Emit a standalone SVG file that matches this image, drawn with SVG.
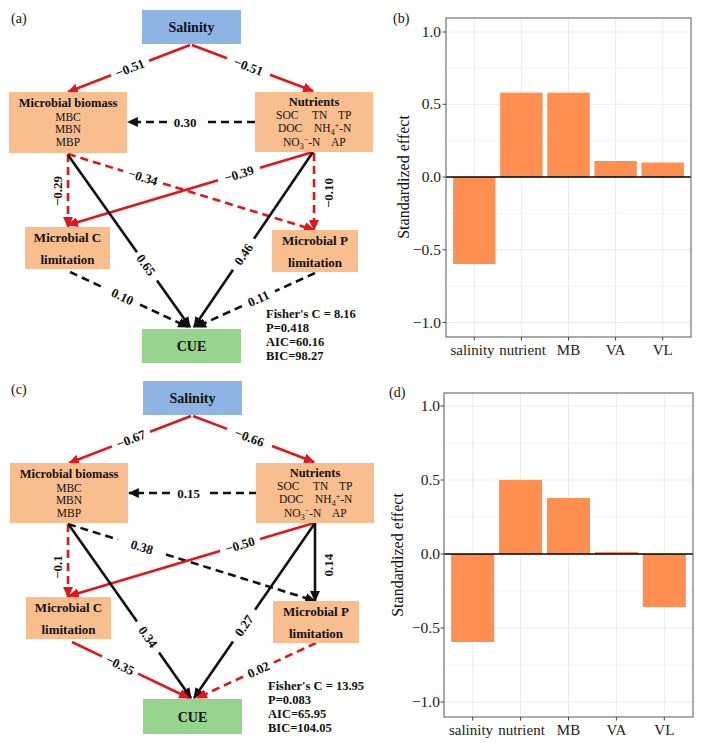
<svg xmlns="http://www.w3.org/2000/svg" width="701" height="743" viewBox="0 0 701 743">
<style>
.bg{fill:#fff}
.sal{fill:#8DB4E2}
.org{fill:#F9BE8E}
.grn{fill:#96D38C}
.t{font-family:"Liberation Serif","Times New Roman",serif;fill:#111}
.tb{font-family:"Liberation Serif","Times New Roman",serif;font-weight:bold;fill:#111}
.h14{font-size:14px}
.h125{font-size:12.5px}
.h13{font-size:13px}
.n{font-size:11.5px}
.lab{font-family:"Liberation Serif","Times New Roman",serif;font-weight:bold;font-size:13px;fill:#111;text-anchor:middle}
.mid{text-anchor:middle}
.r{stroke:#E3151A;stroke-width:2.6;fill:none}
.k{stroke:#111;stroke-width:2.6;fill:none}
.d{stroke-dasharray:8 5}
.grid{stroke:#EBEBEB;stroke-width:1}
.gridm{stroke:#EBEBEB;stroke-width:0.6}
.bar{fill:#FF8F50}
.frame{fill:none;stroke:#666;stroke-width:1.1}
.tick{stroke:#444;stroke-width:1}
.ax{font-family:"Liberation Serif","Times New Roman",serif;font-size:15.5px;fill:#222}
.axx{font-family:"Liberation Serif","Times New Roman",serif;font-size:15px;fill:#222;text-anchor:middle}
.yt{font-family:"Liberation Serif","Times New Roman",serif;font-size:16px;fill:#111;text-anchor:middle}
</style>
<defs>
<marker id="mr" viewBox="0 0 10 9" refX="9" refY="4.5" markerWidth="11" markerHeight="10" markerUnits="userSpaceOnUse" orient="auto"><path d="M0,0 L10,4.5 L0,9 z" fill="#E3151A"/></marker>
<marker id="mk" viewBox="0 0 10 9" refX="9" refY="4.5" markerWidth="11" markerHeight="10" markerUnits="userSpaceOnUse" orient="auto"><path d="M0,0 L10,4.5 L0,9 z" fill="#111"/></marker>
</defs>
<rect class="bg" x="0" y="0" width="701" height="743"/>

<!-- ================= Panel (a) ================= -->
<text class="t h14" x="11" y="23">(a)</text>
<g id="a-connectors">
  <path class="r" d="M190,45 L149,60.7"/>
  <path class="r" d="M111,75.3 L68,92" marker-end="url(#mr)"/>
  <path class="r" d="M192,45 L227,58.3"/>
  <path class="r" d="M270,74.7 L313,91" marker-end="url(#mr)"/>
  <path class="k d" d="M255,122 L203,122"/>
  <path class="k d" d="M167,122 L128,122" marker-end="url(#mk)"/>
  <path class="r d" d="M68,154 L68,227" marker-end="url(#mr)"/>
  <path class="r d" d="M314,153 L314,230" marker-end="url(#mr)"/>
  <path class="r d" d="M68,154 L123,171"/>
  <path class="r d" d="M163,183.4 L314,230" marker-end="url(#mr)"/>
  <path class="r" d="M313,152 L260,167.8"/>
  <path class="r" d="M218,180.3 L68,225" marker-end="url(#mr)"/>
  <path class="k" d="M68,155 L137,252.3"/>
  <path class="k" d="M157,280.5 L190,327" marker-end="url(#mk)"/>
  <path class="k" d="M313,152 L254,238.8"/>
  <path class="k" d="M233,269.7 L194,327" marker-end="url(#mk)"/>
  <path class="k d" d="M70,272 L105,288.3"/>
  <path class="k d" d="M140,304.6 L188,327" marker-end="url(#mk)"/>
  <path class="k d" d="M315,273 L275,291.2"/>
  <path class="k d" d="M242,306.1 L196,327" marker-end="url(#mk)"/>
  <text class="lab" transform="translate(130,68.1) rotate(-21.1)" dy="4.5">−0.51</text>
  <text class="lab" transform="translate(248.5,66.5) rotate(20.8)" dy="4.5">−0.51</text>
  <text class="lab" x="185" y="122" dy="4.5">0.30</text>
  <text class="lab" transform="translate(57,191) rotate(-90)" dy="4.5">−0.29</text>
  <text class="lab" transform="translate(328,193) rotate(-90)" dy="4.5">−0.10</text>
  <text class="lab" transform="translate(143,177.2) rotate(17.2)" dy="4.5">−0.34</text>
  <text class="lab" transform="translate(239,174) rotate(-16.6)" dy="4.5">−0.39</text>
  <text class="lab" transform="translate(146,265) rotate(54.6)" dy="4.5">0.65</text>
  <text class="lab" transform="translate(243.5,254.2) rotate(-55.8)" dy="4.5">0.46</text>
  <text class="lab" transform="translate(122.5,296.5) rotate(25)" dy="4.5">0.10</text>
  <text class="lab" transform="translate(258.5,298.6) rotate(-24.4)" dy="4.5">0.11</text>
</g>
<g id="a-salinity">
  <rect class="sal" x="142" y="10" width="99" height="34"/>
  <text class="tb h14 mid" x="191.5" y="32">Salinity</text>
</g>
<g id="a-biomass">
  <rect class="org" x="9" y="92" width="118" height="61"/>
  <text class="tb h125 mid" x="68" y="107">Microbial biomass</text>
  <text class="t n mid" x="68" y="120.5">MBC</text>
  <text class="t n mid" x="68" y="133">MBN</text>
  <text class="t n mid" x="68" y="146">MBP</text>
</g>
<g id="a-nutrients">
  <rect class="org" x="255" y="92" width="118" height="60"/>
  <text class="tb h125 mid" x="314" y="106">Nutrients</text>
  <text class="t n" x="276" y="118.5">SOC</text>
  <text class="t n" x="312" y="118.5">TN</text>
  <text class="t n" x="338" y="118.5">TP</text>
  <text class="t n" x="278" y="132">DOC</text>
  <text class="t n" x="314" y="132">NH<tspan font-size="8" dy="3">4</tspan><tspan font-size="8" dy="-7">+</tspan><tspan dy="4">-N</tspan></text>
  <text class="t n" x="283" y="145.5">NO<tspan font-size="8" dy="3">3</tspan><tspan font-size="8" dy="-7">−</tspan><tspan dy="4">-N</tspan></text>
  <text class="t n" x="331" y="145.5">AP</text>
</g>
<g id="a-climitation">
  <rect class="org" x="25" y="227" width="85" height="42"/>
  <text class="tb h13 mid" x="67.5" y="241.5">Microbial C</text>
  <text class="tb h13 mid" x="67.5" y="263.5">limitation</text>
</g>
<g id="a-plimitation">
  <rect class="org" x="272" y="230" width="86" height="42"/>
  <text class="tb h13 mid" x="315" y="244.5">Microbial P</text>
  <text class="tb h13 mid" x="315" y="266.5">limitation</text>
</g>
<g id="a-cue">
  <rect class="grn" x="142" y="329" width="99" height="34"/>
  <text class="tb h14 mid" x="191.5" y="351">CUE</text>
</g>
<g id="a-stats">
  <text class="tb h125" x="266" y="317.5">Fisher's C = 8.16</text>
  <text class="tb h125" x="266" y="331.5">P=0.418</text>
  <text class="tb h125" x="266" y="346">AIC=60.16</text>
  <text class="tb h125" x="266" y="360">BIC=98.27</text>
</g>

<!-- ================= Panel (c) ================= -->
<text class="t h14" x="11" y="394">(c)</text>
<g id="c-connectors">
  <path class="r" d="M191,416 L150,431.8"/>
  <path class="r" d="M112,446.4 L69,463" marker-end="url(#mr)"/>
  <path class="r" d="M193,416 L227,428.9"/>
  <path class="r" d="M272,446 L314,462" marker-end="url(#mr)"/>
  <path class="k d" d="M257,493 L207,493"/>
  <path class="k d" d="M170,493 L129,493" marker-end="url(#mk)"/>
  <path class="r d" d="M68,524 L68,597" marker-end="url(#mr)"/>
  <path class="k d" d="M68,524 L118,539.6"/>
  <path class="k d" d="M166,554.5 L315,601" marker-end="url(#mk)"/>
  <path class="r" d="M314,523 L260,539.1"/>
  <path class="r" d="M220,551 L69,596" marker-end="url(#mr)"/>
  <path class="k" d="M315,523 L315,601" marker-end="url(#mk)"/>
  <path class="k" d="M69,525 L137,621.4"/>
  <path class="k" d="M159,652.6 L191,698" marker-end="url(#mk)"/>
  <path class="k" d="M315,523 L255,609.8"/>
  <path class="k" d="M233,641.6 L194,698" marker-end="url(#mk)"/>
  <path class="r" d="M72,642 L102,656.4"/>
  <path class="r" d="M138,673.6 L189,698" marker-end="url(#mr)"/>
  <path class="r d" d="M316,643 L274,662.4"/>
  <path class="r d" d="M243,676.7 L197,698" marker-end="url(#mr)"/>
  <text class="lab" transform="translate(131,439.1) rotate(-21.1)" dy="4.5">−0.67</text>
  <text class="lab" transform="translate(249.5,437.5) rotate(20.8)" dy="4.5">−0.66</text>
  <text class="lab" x="188.5" y="493" dy="4.5">0.15</text>
  <text class="lab" transform="translate(57,567) rotate(-90)" dy="4.5">−0.1</text>
  <text class="lab" transform="translate(142,547) rotate(17.3)" dy="4.5">0.38</text>
  <text class="lab" transform="translate(240,545) rotate(-16.6)" dy="4.5">−0.50</text>
  <text class="lab" transform="translate(328,565) rotate(-90)" dy="4.5">0.14</text>
  <text class="lab" transform="translate(148,637) rotate(54.8)" dy="4.5">0.34</text>
  <text class="lab" transform="translate(244,625.7) rotate(-55.3)" dy="4.5">0.27</text>
  <text class="lab" transform="translate(120,665) rotate(25.6)" dy="4.5">−0.35</text>
  <text class="lab" transform="translate(258.5,669.6) rotate(-24.8)" dy="4.5">0.02</text>
</g>
<g id="c-salinity">
  <rect class="sal" x="143" y="381" width="99" height="34"/>
  <text class="tb h14 mid" x="192.5" y="403">Salinity</text>
</g>
<g id="c-biomass">
  <rect class="org" x="10" y="463" width="118" height="60"/>
  <text class="tb h125 mid" x="69" y="478">Microbial biomass</text>
  <text class="t n mid" x="69" y="491.5">MBC</text>
  <text class="t n mid" x="69" y="504">MBN</text>
  <text class="t n mid" x="69" y="517">MBP</text>
</g>
<g id="c-nutrients">
  <rect class="org" x="256" y="463" width="118" height="60"/>
  <text class="tb h125 mid" x="315" y="477">Nutrients</text>
  <text class="t n" x="277" y="489.5">SOC</text>
  <text class="t n" x="313" y="489.5">TN</text>
  <text class="t n" x="339" y="489.5">TP</text>
  <text class="t n" x="279" y="503">DOC</text>
  <text class="t n" x="315" y="503">NH<tspan font-size="8" dy="3">4</tspan><tspan font-size="8" dy="-7">+</tspan><tspan dy="4">-N</tspan></text>
  <text class="t n" x="284" y="516.5">NO<tspan font-size="8" dy="3">3</tspan><tspan font-size="8" dy="-7">−</tspan><tspan dy="4">-N</tspan></text>
  <text class="t n" x="332" y="516.5">AP</text>
</g>
<g id="c-climitation">
  <rect class="org" x="26" y="597" width="85" height="42"/>
  <text class="tb h13 mid" x="68.5" y="611.5">Microbial C</text>
  <text class="tb h13 mid" x="68.5" y="633.5">limitation</text>
</g>
<g id="c-plimitation">
  <rect class="org" x="273" y="601" width="86" height="42"/>
  <text class="tb h13 mid" x="316" y="615.5">Microbial P</text>
  <text class="tb h13 mid" x="316" y="637.5">limitation</text>
</g>
<g id="c-cue">
  <rect class="grn" x="143" y="699" width="99" height="35"/>
  <text class="tb h14 mid" x="192.5" y="721.5">CUE</text>
</g>
<g id="c-stats">
  <text class="tb h125" x="268" y="689.5">Fisher's C = 13.95</text>
  <text class="tb h125" x="268" y="703.5">P=0.083</text>
  <text class="tb h125" x="268" y="717.5">AIC=65.95</text>
  <text class="tb h125" x="268" y="732">BIC=104.05</text>
</g>

<!-- ================= Panel (b) ================= -->
<g id="b-chart">
  <text class="t h14" x="393" y="23">(b)</text>
  <g>
    <line class="gridm" x1="446" x2="691" y1="67.9" y2="67.9"/>
    <line class="gridm" x1="446" x2="691" y1="140.6" y2="140.6"/>
    <line class="gridm" x1="446" x2="691" y1="213.4" y2="213.4"/>
    <line class="gridm" x1="446" x2="691" y1="286.1" y2="286.1"/>
    <line class="grid" x1="446" x2="691" y1="32" y2="32"/>
    <line class="grid" x1="446" x2="691" y1="104.3" y2="104.3"/>
    <line class="grid" x1="446" x2="691" y1="249.8" y2="249.8"/>
    <line class="grid" x1="446" x2="691" y1="322.5" y2="322.5"/>
    <line class="grid" x1="474.3" x2="474.3" y1="18" y2="337"/>
    <line class="grid" x1="521.4" x2="521.4" y1="18" y2="337"/>
    <line class="grid" x1="568.5" x2="568.5" y1="18" y2="337"/>
    <line class="grid" x1="615.6" x2="615.6" y1="18" y2="337"/>
    <line class="grid" x1="662.7" x2="662.7" y1="18" y2="337"/>
  </g>
  <rect class="bar" x="453.1" y="177" width="42.4" height="87"/>
  <rect class="bar" x="500.2" y="92.6" width="42.4" height="84.4"/>
  <rect class="bar" x="547.3" y="92.6" width="42.4" height="84.4"/>
  <rect class="bar" x="594.4" y="161" width="42.4" height="16"/>
  <rect class="bar" x="641.5" y="162.5" width="42.4" height="14.5"/>
  <line x1="446" x2="691" y1="177" y2="177" stroke="#000" stroke-width="1.5"/>
  <rect class="frame" x="446" y="18" width="245" height="319"/>
  <g class="tick">
    <line x1="442.5" x2="446" y1="32" y2="32"/>
    <line x1="442.5" x2="446" y1="104.3" y2="104.3"/>
    <line x1="442.5" x2="446" y1="177" y2="177"/>
    <line x1="442.5" x2="446" y1="249.8" y2="249.8"/>
    <line x1="442.5" x2="446" y1="322.5" y2="322.5"/>
    <line x1="474.3" x2="474.3" y1="337" y2="340.5"/>
    <line x1="521.4" x2="521.4" y1="337" y2="340.5"/>
    <line x1="568.5" x2="568.5" y1="337" y2="340.5"/>
    <line x1="615.6" x2="615.6" y1="337" y2="340.5"/>
    <line x1="662.7" x2="662.7" y1="337" y2="340.5"/>
  </g>
  <g class="ax" text-anchor="end">
    <text x="441" y="37">1.0</text>
    <text x="441" y="109.3">0.5</text>
    <text x="441" y="182">0.0</text>
    <text x="441" y="254.8">−0.5</text>
    <text x="441" y="327.5">−1.0</text>
  </g>
  <g>
    <text class="axx" x="472.5" y="355">salinity</text>
    <text class="axx" x="522.5" y="355">nutrient</text>
    <text class="axx" x="568.5" y="355">MB</text>
    <text class="axx" x="615.6" y="355">VA</text>
    <text class="axx" x="662.7" y="355">VL</text>
  </g>
  <text class="yt" transform="translate(409,177) rotate(-90)">Standardized effect</text>
</g>

<!-- ================= Panel (d) ================= -->
<g id="d-chart">
  <text class="t h14" x="389" y="397">(d)</text>
  <g>
    <line class="gridm" x1="444" x2="693" y1="443" y2="443"/>
    <line class="gridm" x1="444" x2="693" y1="517" y2="517"/>
    <line class="gridm" x1="444" x2="693" y1="591" y2="591"/>
    <line class="gridm" x1="444" x2="693" y1="665" y2="665"/>
    <line class="grid" x1="444" x2="693" y1="406" y2="406"/>
    <line class="grid" x1="444" x2="693" y1="480" y2="480"/>
    <line class="grid" x1="444" x2="693" y1="628" y2="628"/>
    <line class="grid" x1="444" x2="693" y1="702" y2="702"/>
    <line class="grid" x1="472.7" x2="472.7" y1="393" y2="717"/>
    <line class="grid" x1="520.6" x2="520.6" y1="393" y2="717"/>
    <line class="grid" x1="568.5" x2="568.5" y1="393" y2="717"/>
    <line class="grid" x1="616.4" x2="616.4" y1="393" y2="717"/>
    <line class="grid" x1="664.3" x2="664.3" y1="393" y2="717"/>
  </g>
  <rect class="bar" x="451.2" y="554" width="43" height="88"/>
  <rect class="bar" x="499.1" y="480" width="43" height="74"/>
  <rect class="bar" x="547" y="498" width="43" height="56"/>
  <rect class="bar" x="594.9" y="552" width="43" height="2"/>
  <rect class="bar" x="642.8" y="554" width="43" height="53"/>
  <line x1="444" x2="693" y1="554" y2="554" stroke="#000" stroke-width="1.5"/>
  <rect class="frame" x="444" y="393" width="249" height="324"/>
  <g class="tick">
    <line x1="440.5" x2="444" y1="406" y2="406"/>
    <line x1="440.5" x2="444" y1="480" y2="480"/>
    <line x1="440.5" x2="444" y1="554" y2="554"/>
    <line x1="440.5" x2="444" y1="628" y2="628"/>
    <line x1="440.5" x2="444" y1="702" y2="702"/>
    <line x1="472.7" x2="472.7" y1="717" y2="720.5"/>
    <line x1="520.6" x2="520.6" y1="717" y2="720.5"/>
    <line x1="568.5" x2="568.5" y1="717" y2="720.5"/>
    <line x1="616.4" x2="616.4" y1="717" y2="720.5"/>
    <line x1="664.3" x2="664.3" y1="717" y2="720.5"/>
  </g>
  <g class="ax" text-anchor="end">
    <text x="440" y="411">1.0</text>
    <text x="440" y="485">0.5</text>
    <text x="440" y="559">0.0</text>
    <text x="440" y="633">−0.5</text>
    <text x="440" y="707">−1.0</text>
  </g>
  <g>
    <text class="axx" x="471" y="735">salinity</text>
    <text class="axx" x="521.5" y="735">nutrient</text>
    <text class="axx" x="568.5" y="735">MB</text>
    <text class="axx" x="616.4" y="735">VA</text>
    <text class="axx" x="664.3" y="735">VL</text>
  </g>
  <text class="yt" transform="translate(403,555) rotate(-90)">Standardized effect</text>
</g>
</svg>
